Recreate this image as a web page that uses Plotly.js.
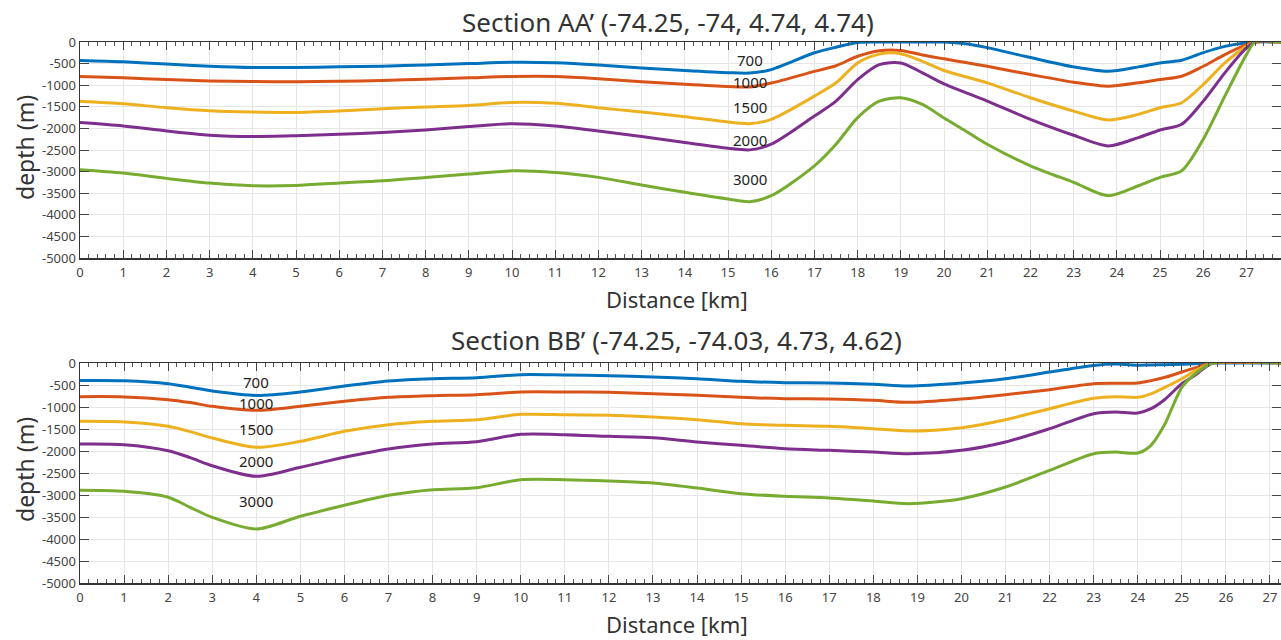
<!DOCTYPE html>
<html>
<head>
<meta charset="utf-8">
<script src="https://cdn.plot.ly/plotly-3.0.1.min.js"></script>
<style>html,body{margin:0;padding:0;background:#fff;}#chart{width:1281px;height:640px;}</style>
</head>
<body>
<div id="chart"></div>
<script>
// ---- Data ----
const contourLevels = ['700', '1000', '1500', '2000', '3000'];
const lineColors = ['#0072BD', '#D95319', '#EDB120', '#7E2F8E', '#77AC30'];

// Section AA'
const distA = [0,1,2,3,4,5,6,7,8,9,10,11,12,13,14,15,15.5,16,17,17.5,18,18.5,19,19.5,20,20.5,21,22,23,23.8,24.5,25,25.5,26,26.5,27,27.2,27.8];
const a700  = [-430,-460,-510,-560,-590,-590,-575,-560,-530,-500,-470,-480,-530,-600,-660,-710,-720,-640,-250,-120,-10,0,0,0,0,-40,-130,-360,-576,-677,-576,-484,-424,-247,-101,-20,0,0];
const a1000 = [-800,-830,-870,-900,-915,-920,-910,-890,-860,-830,-800,-800,-850,-920,-980,-1030,-1040,-950,-680,-550,-330,-200,-195,-300,-390,-475,-562,-753,-930,-1023,-945,-869,-792,-562,-292,-62,0,0];
const a1500 = [-1370,-1430,-1520,-1590,-1622,-1630,-1600,-1544,-1505,-1468,-1400,-1420,-1521,-1622,-1728,-1853,-1890,-1790,-1253,-945,-484,-280,-270,-447,-660,-805,-945,-1290,-1599,-1806,-1675,-1521,-1406,-984,-484,-101,0,0];
const a2000 = [-1866,-1945,-2060,-2159,-2189,-2170,-2136,-2097,-2036,-1958,-1890,-1945,-2060,-2190,-2327,-2459,-2497,-2366,-1714,-1369,-869,-523,-484,-714,-970,-1170,-1369,-1790,-2159,-2405,-2212,-2036,-1905,-1369,-714,-138,0,0];
const a3000 = [-2958,-3035,-3157,-3265,-3327,-3320,-3265,-3212,-3134,-3058,-2982,-3020,-3134,-3311,-3479,-3634,-3696,-3558,-2866,-2366,-1751,-1369,-1290,-1445,-1760,-2060,-2366,-2866,-3249,-3558,-3327,-3134,-2982,-2251,-1253,-292,0,0];

// Section BB'
const distB = [0,1,2,2.5,3,4,5,6,7,8,9,10,11,12,13,14,15,16,17,18,18.8,20,21,22,23,23.5,24,24.3,24.6,25,25.3,25.7,27.25];
const b700  = [-400,-405,-470,-550,-636,-736,-659,-523,-409,-357,-335,-266,-273,-288,-318,-357,-417,-447,-455,-485,-523,-455,-357,-205,-55,-25,-50,-45,-40,-30,-15,0,0];
const b1000 = [-766,-770,-834,-900,-985,-1076,-985,-871,-780,-742,-720,-659,-659,-667,-697,-735,-780,-811,-818,-848,-894,-818,-720,-606,-470,-460,-455,-400,-330,-205,-110,0,0];
const b1500 = [-1326,-1340,-1439,-1560,-1705,-1917,-1780,-1553,-1402,-1326,-1288,-1167,-1174,-1190,-1228,-1288,-1380,-1417,-1440,-1493,-1546,-1470,-1288,-1038,-803,-765,-780,-700,-560,-357,-180,0,0];
const b2000 = [-1841,-1856,-1993,-2150,-2334,-2576,-2371,-2144,-1955,-1841,-1788,-1621,-1629,-1667,-1697,-1795,-1871,-1947,-1985,-2023,-2061,-1985,-1795,-1493,-1152,-1114,-1137,-1038,-840,-470,-280,0,0];
const b3000 = [-2893,-2917,-3052,-3280,-3507,-3773,-3484,-3234,-3007,-2880,-2835,-2652,-2652,-2682,-2728,-2841,-2970,-3030,-3068,-3137,-3198,-3083,-2818,-2439,-2061,-2023,-2046,-1871,-1417,-553,-250,0,0];

// Label positions (data units) for contour level text
const labelA_x = [15.5, 15.5, 15.5, 15.5, 15.5];
const labelA_y = [-410, -920, -1500, -2260, -3180];
const labelB_x = [4.0, 4.0, 4.0, 4.0, 4.0];
const labelB_y = [-430, -900, -1490, -2220, -3130];

const yTickVals = [0,-500,-1000,-1500,-2000,-2500,-3000,-3500,-4000,-4500,-5000];
const yTickText = ['0','-500','-1000','-1500','-2000','-2500','-3000','-3500','-4000','-4500','-5000'];
const titleA = 'Section AA\u2019 (-74.25, -74, 4.74, 4.74)';
const titleB = 'Section BB\u2019 (-74.25, -74.03, 4.73, 4.62)';
const xTitle = 'Distance [km]';
const yTitle = 'depth (m)';

// ---- Build ----
const FONT = 'Noto Sans, Open Sans, sans-serif';
const W = 1281, H = 640, ML = 80;
const seriesA = [a700, a1000, a1500, a2000, a3000];
const seriesB = [b700, b1000, b1500, b2000, b3000];
const traces = [];
seriesA.forEach((ys, i) => traces.push({
  x: distA, y: ys, xaxis: 'x', yaxis: 'y', type: 'scatter', mode: 'lines',
  line: {color: lineColors[i], width: 3, shape: 'spline', smoothing: 0.8},
  name: contourLevels[i], showlegend: false, hoverinfo: 'skip'
}));
seriesB.forEach((ys, i) => traces.push({
  x: distB, y: ys, xaxis: 'x2', yaxis: 'y2', type: 'scatter', mode: 'lines',
  line: {color: lineColors[i], width: 3, shape: 'spline', smoothing: 0.8},
  name: contourLevels[i], showlegend: false, hoverinfo: 'skip'
}));

function xAxis(range, anchor) {
  return {
    range: range, domain: [0, 1], anchor: anchor,
    dtick: 1, tick0: 0, ticks: 'inside', ticklen: 8, tickwidth: 1, tickcolor: '#444',
    showline: true, linecolor: '#333', linewidth: 1.5, mirror: 'ticks',
    showgrid: true, gridcolor: '#e6e6e6', gridwidth: 1, zeroline: false,
    minor: {dtick: 0.2, tick0: 0, ticks: 'inside', ticklen: 4, tickcolor: '#555', showgrid: false},
    tickfont: {family: FONT, size: 13, color: '#444'}, ticklabelstandoff: 2, fixedrange: true
  };
}
function yAxis(domain, anchor) {
  return {
    range: [-5000, 0], domain: domain, anchor: anchor,
    tickvals: yTickVals, ticktext: yTickText,
    ticks: 'inside', ticklen: 9, tickwidth: 1, tickcolor: '#444',
    showline: true, linecolor: '#333', linewidth: 1.5, mirror: 'ticks',
    showgrid: true, gridcolor: '#e6e6e6', gridwidth: 1, zeroline: false,
    tickfont: {family: FONT, size: 13, color: '#444'}, fixedrange: true
  };
}

const annotations = [];
function addLabels(xs, ys, xref, yref) {
  contourLevels.forEach((t, i) => annotations.push({
    x: xs[i], y: ys[i], xref: xref, yref: yref, text: t, showarrow: false,
    font: {family: FONT, size: 15, color: '#222'}
  }));
}
addLabels(labelA_x, labelA_y, 'x', 'y');
addLabels(labelB_x, labelB_y, 'x2', 'y2');

// paper coords: x spans the plot area (ML..W), y spans full height (no t/b margins)
const px2paperX = px => (px - ML) / (W - ML);
const px2paperY = py => 1 - py / H;
const textBlocks = [
  {text: titleA, x: 668, y: 22, size: 26},
  {text: titleB, x: 676, y: 340, size: 26},
  {text: xTitle, x: 677, y: 299, size: 22},
  {text: xTitle, x: 677, y: 624, size: 22}
];
textBlocks.forEach(b => annotations.push({
  x: px2paperX(b.x), y: px2paperY(b.y), xref: 'paper', yref: 'paper',
  xanchor: 'center', yanchor: 'middle', text: b.text, showarrow: false,
  font: {family: FONT, size: b.size, color: '#333'}
}));
[148, 470].forEach(py => annotations.push({
  x: px2paperX(25), y: px2paperY(py), xref: 'paper', yref: 'paper',
  xanchor: 'center', yanchor: 'middle', text: yTitle, textangle: -90, showarrow: false,
  font: {family: FONT, size: 23, color: '#333'}
}));

const layout = {
  width: W, height: H,
  margin: {l: ML, r: 0, t: 0, b: 0},
  paper_bgcolor: '#fff', plot_bgcolor: '#fff',
  showlegend: false,
  xaxis: xAxis([0, 27.8], 'y'),
  yaxis: yAxis([1 - 258/640, 1 - 42/640], 'x'),
  xaxis2: xAxis([0, 27.25], 'y2'),
  yaxis2: yAxis([1 - 583/640, 1 - 363/640], 'x2'),
  annotations: annotations
};

Plotly.newPlot('chart', traces, layout, {staticPlot: true, displayModeBar: false});
</script>
</body>
</html>
